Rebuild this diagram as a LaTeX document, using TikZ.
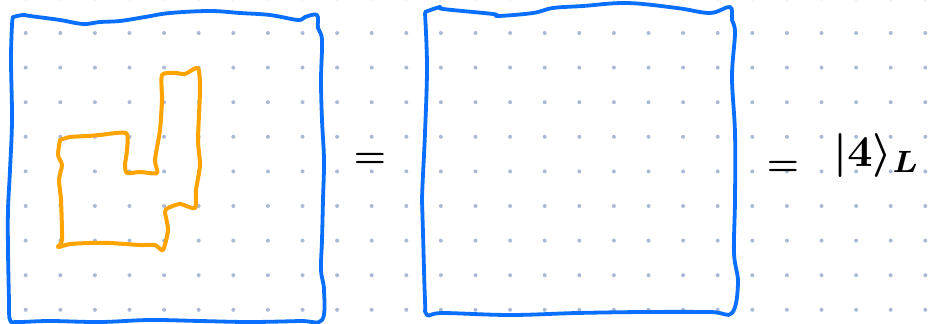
\documentclass[tikz,border=0pt]{standalone}
\usepackage{amsmath}
\usepackage{graphicx}
\usepackage{xcolor}
\usepackage{tikz}
\usetikzlibrary{positioning}

\definecolor{penblue}{RGB}{10,110,255}
\definecolor{penorange}{RGB}{255,163,0}
\definecolor{dotgray}{RGB}{170,186,212}

\tikzset{
  boxline/.style={penblue, line width=3.8pt, line join=round, line cap=round},
  tileline/.style={penorange, line width=4pt, line join=round, line cap=round},
  ink/.style={black, inner sep=0pt}
}

\begin{document}
\begin{tikzpicture}[x=1pt,y=-1pt]

\useasboundingbox (0,0) rectangle (935,324);
\clip (0,0) rectangle (935,324);

% dotted paper
\foreach \i in {-1,...,27}
  \foreach \j in {-1,...,9}
    \fill[dotgray] ({25.7+34.6*\i},{33+34.6*\j}) circle (2);

% left box
\draw[boxline] plot[smooth,tension=0.6] coordinates {(13,17) (23,15) (30,16) (60,20) (83,24) (100,22) (120,21) (145,17) (170,13) (210,11) (240,13) (270,15) (298,20) (305,17) (317,15) (318,28) (322,40) (321,80) (322,120) (324,160) (323,200) (322,240) (321,270) (324,290) (322,320) (300,321) (250,322) (200,321) (150,320) (100,322) (50,321) (18,322) (10,320) (9,300) (8,250) (8,210) (10,170) (12,120) (11,60) (12,25) (13,17)};

\draw[tileline] plot[smooth,tension=0.4] coordinates {(60,140) (70,137) (88,136) (100,135) (126,133) (127,150) (125,165) (127,173) (140,172) (157,173) (155,160) (160,130) (162,100) (162,75) (175,73) (185,74) (198,68) (200,90) (198,140) (200,165) (196,190) (195,208) (180,204) (168,208) (165,212) (168,230) (163,250) (155,245) (140,245) (110,243) (90,243) (70,244) (58,247) (62,240) (61,200) (59,180) (62,165) (58,155) (60,140)};

% right box
\draw[boxline] plot[smooth,tension=0.6] coordinates {(425,12) (440,7) (443,9) (493,14) (498,16) (533,13) (553,8) (583,6) (627,3) (677,8) (710,13) (730,7) (732,20) (735,33) (732,77) (735,133) (735,200) (734,253) (738,283) (732,313) (710,312) (643,312) (577,313) (510,315) (443,313) (427,315) (425,300) (423,233) (422,200) (425,133) (427,67) (425,13)};

\node[ink](eqa) at (370,160) {\scalebox{3.6}{\boldmath$=$}};
\node[ink](eqb) at (783,168) {\scalebox{3.6}{\boldmath$=$}};
\node[ink, anchor=base west](ket) at (833,166) {\scalebox{4.4}{\boldmath$|4\rangle_L$}};

\end{tikzpicture}
\end{document}
